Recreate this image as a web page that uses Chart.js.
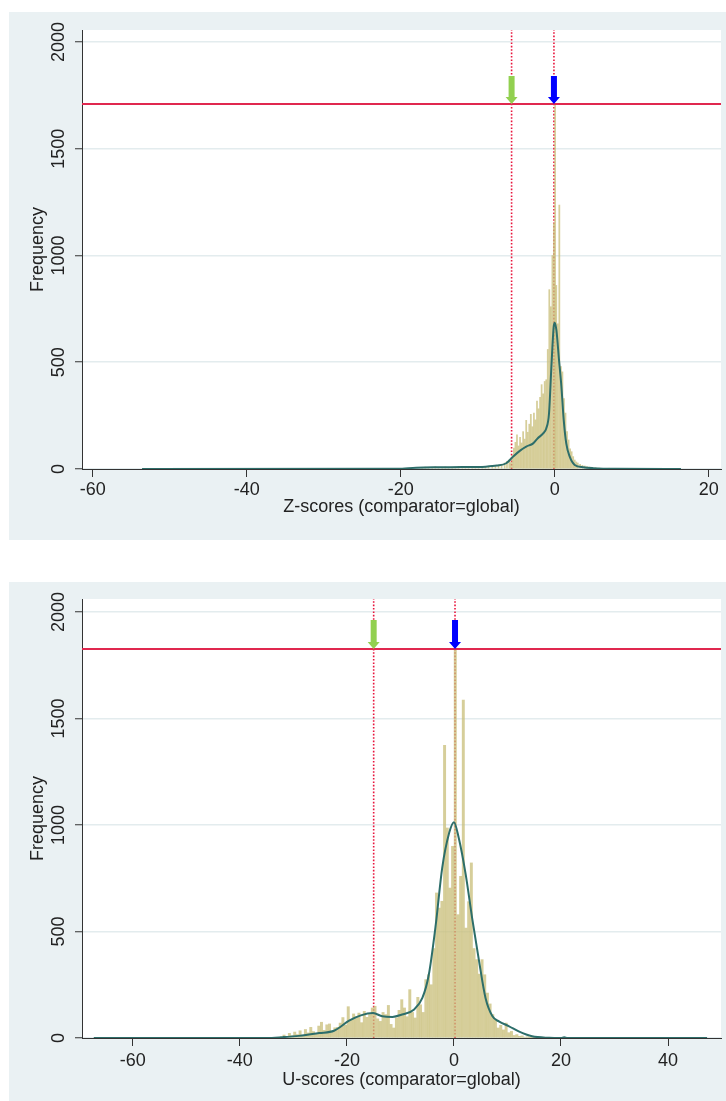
<!doctype html>
<html lang="en">
<head>
<meta charset="UTF-8">
<title>Z-scores and U-scores (comparator=global)</title>
<script src="https://cdn.jsdelivr.net/npm/chart.js@4.4.1/dist/chart.umd.min.js"></script>
<style>
    html, body { margin: 0; padding: 0; background: #fff; }
    body { width: 726px; height: 1101px; position: relative; overflow: hidden; }
    .panel { position: absolute; left: 9px; width: 717px; background: #eaf1f3; }
    #panel-z { top: 12px; height: 528px; }
    #panel-u { top: 582px; height: 519px; }
    canvas { display: block; }
</style>
</head>
<body>
<div class="panel" id="panel-z"><canvas id="chart-z" width="717" height="528"></canvas></div>
<div class="panel" id="panel-u"><canvas id="chart-u" width="717" height="519"></canvas></div>
<script>
// shared y ticks
var freqTicks = [0, 500, 1000, 1500, 2000];

// ---- Z-scores panel ----
var zTicks = [-60, -40, -20, 0, 20];
var zRange = [-61.4, 21.6];
var zBins = [-17.2, -16.8, -16.4, -15.9, -15.5, -15.1, -14.6, -14.2, -13.8, -13.3, -12.9, -12.5, -12.0, -11.6,
    -11.2, -10.7, -10.3, -9.9, -9.4, -9.0, -8.6, -8.1, -7.7, -7.3, -6.9, -6.5, -6.2,
    -5.9, -5.7, -5.5, -5.3, -5.1, -4.9, -4.7, -4.5, -4.3, -4.1, -3.9, -3.7, -3.5, -3.3, -3.1, -2.9, -2.7,
    -2.5, -2.3, -2.1, -1.9, -1.7, -1.5, -1.3, -1.1, -0.9, -0.7, -0.5, -0.3, -0.1, 0.05, 0.2, 0.4, 0.6,
    0.8, 1.0, 1.2, 1.4, 1.6, 1.8, 2.0, 2.2, 2.4, 2.6, 2.8, 3.0, 3.3, 3.6, 3.9, 4.2, 4.5, 4.9, 5.3, 5.8, 6.4, 7.1];
var zFreq = [6, 9, 4, 8, 11, 5, 7, 10, 6, 4, 9, 12, 7, 5,
    8, 10, 6, 9, 13, 8, 11, 15, 12, 18, 22, 28, 36,
    42, 30, 64, 98, 125, 160, 108, 148, 122, 175, 140, 228, 172, 210, 256, 198, 262,
    230, 318, 282, 336, 395, 352, 410, 418, 560, 840, 760, 1000, 1150, 1710, 860, 680, 1236,
    480, 455, 330, 262, 175, 136, 95, 81, 58, 42, 33, 28, 22, 17, 14, 11, 9, 7, 6, 4, 3, 2];
var zDensX = [-53.6, -20.4, -18, -15, -12, -9, -7.5, -6.3, -5.4, -4.5, -3.7, -2.8, -2.2, -1.5, -1.1, -0.74,
    -0.43, -0.13, 0, 0.22, 0.56, 0.87, 1.17, 1.5, 1.95, 2.6, 3.7, 5, 7.9, 16.4];
var zDensY = [0, 1, 6, 8, 9, 11, 16, 27, 58, 86, 105, 120, 144, 167, 190, 260,
    480, 667, 685, 650, 510, 386, 230, 120, 58, 19, 8, 4, 1, 0];
var zMarkers = [-5.6, -0.1];   // green, blue
var zMaxLine = 1710;
var zArrowTop = 1840;

// ---- U-scores panel ----
var uTicks = [-60, -40, -20, 0, 20, 40];
var uRange = [-69.5, 49.9];
var uBinStart = -33, uBinWidth = 0.5;
var uFreq = [0, 6, 14, 0, 22, 10, 28, 16, 34, 12,
    40, 24, 50, 30, 18, 56, 74, 36, 62, 66,
    28, 48, 50, 70, 96, 60, 147, 84, 113, 100,
    117, 72, 125, 97, 110, 141, 149, 90, 78, 120,
    110, 153, 64, 47, 94, 130, 180, 141, 100, 227,
    120, 94, 191, 156, 120, 274, 297, 250, 420, 681,
    610, 642, 1374, 986, 704, 900, 1826, 579, 759, 1587,
    516, 640, 822, 420, 368, 300, 368, 297, 211, 160,
    110, 85, 47, 60, 38, 70, 25, 31, 12, 16,
    8, 10, 4, 6, 2, 3, 0, 1, 0, 1];
var uDensX = [-67.3, -35, -32, -29, -25.2, -22.4, -19.6, -17.4, -15.1, -13.4, -11.5, -9.7, -7.5, -5.9,
    -4.7, -3.4, -2.2, -0.9, 0, 0.9, 2.2, 3.4, 4.7, 5.9, 7.2, 8.4, 10.3, 12.1, 14.6, 17.8, 20, 20.6, 21.2, 47.3];
var uDensY = [0, 0, 4, 10, 23, 34, 81, 106, 117, 102, 99, 110, 133, 188,
    297, 532, 798, 962, 1013, 939, 767, 563, 360, 188, 102, 78, 55, 31, 8, 1, 0, 3, 0, 0];
var uMarkers = [-15, 0.2];
var uMaxLine = 1826;
var uArrowTop = 1962;

var uBins = uFreq.map(function (f, i) { return uBinStart + uBinWidth * (i + 0.5); });

var RED = '#e0284f';
var AXIS = '#333';
var TEXT = '#222';
var FONT = "'Liberation Sans', Arial, sans-serif";

function plain(v) { return String(v); }

// white plot region + marker arrows
var panelPlugin = {
    id: 'panelPlugin',
    beforeDraw: function (chart) {
        var a = chart.chartArea, ctx = chart.ctx;
        ctx.save();
        ctx.fillStyle = '#fff';
        ctx.fillRect(a.left, a.top, a.right - a.left, a.bottom - a.top);
        ctx.restore();
    },
    afterDatasetsDraw: function (chart, args, opts) {
        var ctx = chart.ctx, xs = chart.scales.x, ys = chart.scales.y;
        var top = ys.getPixelForValue(opts.arrowTop);
        var tip = ys.getPixelForValue(opts.arrowTip);
        opts.arrows.forEach(function (ar) {
            var x = xs.getPixelForValue(ar.x);
            var headH = 7, shaft = 3, head = 6;
            ctx.save();
            ctx.fillStyle = ar.color;
            ctx.beginPath();
            ctx.moveTo(x - shaft, top);
            ctx.lineTo(x + shaft, top);
            ctx.lineTo(x + shaft, tip - headH);
            ctx.lineTo(x + head, tip - headH);
            ctx.lineTo(x, tip);
            ctx.lineTo(x - head, tip - headH);
            ctx.lineTo(x - shaft, tip - headH);
            ctx.closePath();
            ctx.fill();
            ctx.restore();
        });
    }
};

function buildChart(id, d) {
    var bars = d.bins.map(function (b, i) { return { x: b, y: d.freq[i] }; });
    var dens = d.densX.map(function (v, i) { return { x: v, y: d.densY[i] }; });
    var datasets = [
        { type: 'line', data: dens, borderColor: '#2d6e6a', borderWidth: 2, pointRadius: 0,
          cubicInterpolationMode: 'monotone', order: 0 },
        { type: 'line', data: [{ x: d.range[0], y: d.maxLine }, { x: d.range[1], y: d.maxLine }],
          borderColor: RED, borderWidth: 2, pointRadius: 0, order: 1 },
        { type: 'bar', data: bars, backgroundColor: 'rgba(200,190,120,0.75)', barThickness: d.barWidth,
          order: 2 }
    ];
    d.markers.forEach(function (v) {
        datasets.push({ type: 'line', data: [{ x: v, y: 0 }, { x: v, y: d.yMax }], borderColor: '#e8143c',
            borderWidth: 1.6, borderDash: [1.6, 1.8], pointRadius: 0, order: 3 });
    });

    return new Chart(document.getElementById(id), {
        type: 'bar',
        data: { datasets: datasets },
        plugins: [panelPlugin],
        options: {
            responsive: false,
            animation: false,
            devicePixelRatio: 1,
            layout: { padding: { top: d.padTop, right: 5, left: 0, bottom: 0 } },
            plugins: {
                legend: { display: false },
                tooltip: { enabled: false },
                panelPlugin: {
                    arrowTop: d.arrowTop,
                    arrowTip: d.maxLine,
                    arrows: [{ x: d.markers[0], color: '#92d050' }, { x: d.markers[1], color: '#0000ff' }]
                }
            },
            scales: {
                x: {
                    type: 'linear', min: d.range[0], max: d.range[1], offset: false,
                    afterBuildTicks: function (s) { s.ticks = d.ticks.map(function (v) { return { value: v }; }); },
                    afterFit: function (s) { s.height = d.xHeight; },
                    grid: { offset: false, drawOnChartArea: false, drawTicks: true, tickLength: 8, tickColor: AXIS },
                    border: { display: true, color: AXIS, width: 1 },
                    ticks: { color: TEXT, font: { family: FONT, size: 18 }, padding: d.xTickPad, maxRotation: 0,
                             callback: plain },
                    title: { display: true, text: d.title, color: TEXT, font: { family: FONT, size: 18 },
                             padding: { top: 0, bottom: d.titlePad } }
                },
                y: {
                    type: 'linear', min: 0, max: d.yMax,
                    afterBuildTicks: function (s) { s.ticks = freqTicks.map(function (v) { return { value: v }; }); },
                    afterFit: function (s) { s.width = 73; },
                    grid: { color: '#e3ecee', lineWidth: 1.5, drawTicks: true, tickLength: 7, tickColor: AXIS, tickWidth: 1 },
                    border: { display: true, color: AXIS, width: 1 },
                    ticks: { color: TEXT, font: { family: FONT, size: 18 }, padding: -4, minRotation: 90, maxRotation: 90,
                             crossAlign: 'center', callback: plain },
                    title: { display: true, text: 'Frequency', color: TEXT, font: { family: FONT, size: 18 },
                             padding: { top: 18.5, bottom: 0 } }
                }
            }
        }
    });
}

buildChart('chart-z', {
    bins: zBins, freq: zFreq, densX: zDensX, densY: zDensY, markers: zMarkers,
    maxLine: zMaxLine, arrowTop: zArrowTop, range: zRange, ticks: zTicks, yMax: 2056,
    barWidth: 1.1, padTop: 18, xHeight: 71, xTickPad: 2, titlePad: 22,
    title: 'Z-scores (comparator=global)'
});

buildChart('chart-u', {
    bins: uBins, freq: uFreq, densX: uDensX, densY: uDensY, markers: uMarkers,
    maxLine: uMaxLine, arrowTop: uArrowTop, range: uRange, ticks: uTicks, yMax: 2061,
    barWidth: 2.3, padTop: 17, xHeight: 63, xTickPad: 4, titlePad: 10,
    title: 'U-scores (comparator=global)'
});
</script>
</body>
</html>
